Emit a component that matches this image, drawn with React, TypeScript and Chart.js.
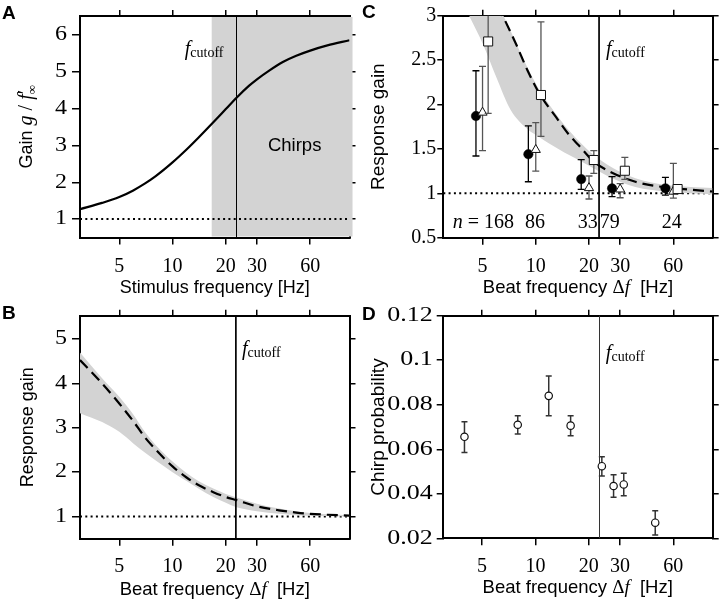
import React, { useEffect, useRef } from 'react';
import { Chart, registerables } from 'chart.js';

Chart.register(...registerables);

const SERIF = '"Liberation Serif", "Times New Roman", serif';
const SANS = '"Liberation Sans", Arial, Helvetica, sans-serif';

// ---- shared frequency axis ----
const freqMin = 3;
const freqMax = 100;
const freqTicks = [5, 10, 20, 30, 60];
const fCutoff = 22.8;
const unityX = [3, 100];
const unityY = [1, 1];

// ---- Panel A: gain vs stimulus frequency ----
const stimFreq = [3, 4, 5, 6, 7, 8, 10, 12, 14, 17, 20, 23, 27, 30, 35, 42, 50, 60, 75, 100];
const stimGain = [1.27, 1.44, 1.6, 1.78, 1.97, 2.16, 2.54, 2.89, 3.21, 3.63, 3.99, 4.3, 4.62, 4.8, 5.03, 5.27, 5.44, 5.58, 5.72, 5.86];
const chirpRange = [16.65, 104];
const chirpsLabelPos = [49, 3.0];
const gainTicks = [1, 2, 3, 4, 5, 6];

// ---- Panel B: model response gain vs beat frequency ----
const beatFreqB = [3, 4, 5, 6, 7, 8, 10, 12, 14, 17, 20, 23, 30, 40, 50, 60, 75, 100];
const respMeanB = [4.53, 4.0, 3.55, 3.15, 2.78, 2.52, 2.13, 1.88, 1.71, 1.55, 1.44, 1.37, 1.23, 1.14, 1.09, 1.06, 1.04, 1.02];
const respUpperB = [4.7, 4.12, 3.7, 3.3, 2.9, 2.62, 2.24, 1.98, 1.8, 1.63, 1.51, 1.43, 1.29, 1.18, 1.12, 1.08, 1.05, 1.03];
const respLowerB = [3.33, 3.13, 2.91, 2.65, 2.44, 2.27, 2.0, 1.8, 1.635, 1.44, 1.31, 1.21, 1.12, 1.06, 1.03, 1.02, 1.01, 1.0];
const respTicksB = [1, 2, 3, 4, 5];

// ---- Panel C: measured response gain ----
const modelFreqC = [3, 5, 6.5, 7.7, 9, 10.5, 13, 15.4, 17.5, 21.3, 27, 36.6, 54, 75, 100];
const modelMeanC = [4.3, 3.45, 3.0, 2.69, 2.38, 2.12, 1.86, 1.66, 1.54, 1.356, 1.232, 1.13, 1.067, 1.04, 1.02];
const bandFreqC = [3, 4.2, 5, 6, 7.2, 9, 10.5, 11.9, 14.5, 17.5, 21.3, 27, 36.6, 54, 75, 100];
const bandUpperC = [4.32, 3.76, 3.47, 3.16, 2.83, 2.41, 2.16, 2.0, 1.77, 1.59, 1.43, 1.29, 1.17, 1.095, 1.07, 1.06];
const bandLowerC = [3.6, 3.0, 2.69, 2.3, 1.94, 1.72, 1.63, 1.56, 1.46, 1.375, 1.28, 1.17, 1.07, 1.02, 1.0, 0.99];
const circFreq = [4.59, 9.08, 18.07, 27.0, 54.1];
const circGain = [1.87, 1.44, 1.16, 1.056, 1.056];
const circLo = [1.42, 1.13, 1.045, 0.962, 0.98];
const circHi = [2.38, 1.76, 1.38, 1.187, 1.18];
const triFreq = [5.0, 10.0, 20.0, 30.0, 60.0];
const triGain = [1.91, 1.49, 1.06, 1.045, 1.02];
const triLo = [1.48, 1.25, 0.936, 0.95, 0.945];
const triHi = [2.43, 1.795, 1.195, 1.11, 1.337];
const sqFreq = [5.38, 10.7, 21.3, 31.9, 63.4];
const sqGain = [2.71, 2.107, 1.375, 1.254, 1.048];
const sqLo = [1.9, 1.64, 1.225, 1.157, 1.03];
const sqHi = [3.52, 2.93, 1.48, 1.405, 1.07];
const nLabels = ['168', '86', '33', '79', '24'];
const nFreq = [6.2, 9.9, 19.7, 26.2, 58.7];
const nLevel = 0.61;
const respTicksC = [0.5, 1, 1.5, 2, 2.5, 3];

// ---- Panel D: chirp probability ----
const chirpFreq = [3.98, 7.95, 11.89, 15.8, 23.7, 27.6, 31.5, 47.4];
const chirpProb = [0.0656, 0.071, 0.084, 0.0706, 0.0524, 0.0435, 0.0442, 0.027];
const chirpLo = [0.0586, 0.0668, 0.0751, 0.0661, 0.048, 0.0384, 0.0391, 0.0215];
const chirpHi = [0.0724, 0.0751, 0.0929, 0.0751, 0.0566, 0.0485, 0.0492, 0.0324];
const probTicks = [0.02, 0.04, 0.06, 0.08, 0.1, 0.12];

const BAND = '#d3d3d3';

const pts = (xs: number[], ys: number[]) => xs.map((x, i) => ({ x, y: ys[i] }));

type Seg = { t: string; f: string; dy?: number; noAdvance?: boolean };

function rich(ctx: CanvasRenderingContext2D, segs: Seg[], x: number, y: number, align: 'left' | 'center' | 'right', rotate = false) {
  ctx.save();
  ctx.translate(x, y);
  if (rotate) ctx.rotate(-Math.PI / 2);
  let total = 0;
  for (const s of segs) {
    ctx.font = s.f;
    if (!s.noAdvance) total += ctx.measureText(s.t).width;
  }
  let cx = align === 'left' ? 0 : align === 'center' ? -total / 2 : -total;
  ctx.textAlign = 'left';
  ctx.textBaseline = 'alphabetic';
  ctx.fillStyle = '#000';
  for (const s of segs) {
    ctx.font = s.f;
    ctx.fillText(s.t, cx, s.dy || 0);
    if (!s.noAdvance) cx += ctx.measureText(s.t).width;
  }
  ctx.restore();
  return total;
}

function fcut(ctx: CanvasRenderingContext2D, x: number, y: number, align: 'left' | 'right') {
  rich(ctx, [
    { t: 'f', f: `italic 20px ${SERIF}` },
    { t: 'cutoff', f: `14px ${SERIF}`, dy: 2 },
  ], x, y, align);
}

function beatTitle(ctx: CanvasRenderingContext2D, x: number, y: number) {
  rich(ctx, [
    { t: 'Beat frequency ', f: `18.5px ${SANS}` },
    { t: 'Δ', f: `19px ${SERIF}` },
    { t: 'f', f: `italic 19px ${SERIF}` },
    { t: '  [Hz]', f: `18.5px ${SANS}` },
  ], x, y, 'center');
}

function letter(ctx: CanvasRenderingContext2D, t: string, y: number) {
  ctx.save();
  ctx.font = `bold 19px ${SANS}`;
  ctx.fillStyle = '#000';
  ctx.textAlign = 'left';
  ctx.textBaseline = 'alphabetic';
  ctx.fillText(t, 2, y);
  ctx.restore();
}

interface Spec {
  w: number;
  h: number;
  area: { l: number; t: number; r: number; b: number };
  yMin: number;
  yMax: number;
  yTicks: number[];
  yTickLen: number;
  yTickPad: number;
  yStretch: number;
  xLabelMid: number;
  datasets: any[];
  region?: number[];
  vline?: { color: string; width: number; afterIndex: number };
  draw: (ctx: CanvasRenderingContext2D, chart: any) => void;
}

function decor(s: Spec) {
  const drawV = (chart: any) => {
    const v = s.vline!;
    const { ctx, chartArea, scales } = chart;
    let x = scales.x.getPixelForValue(fCutoff);
    if (v.width <= 1.2) x = Math.round(x) + 0.5;
    ctx.save();
    ctx.strokeStyle = v.color;
    ctx.lineWidth = v.width;
    ctx.beginPath();
    ctx.moveTo(x, chartArea.top);
    ctx.lineTo(x, chartArea.bottom);
    ctx.stroke();
    ctx.restore();
  };
  return {
    id: 'decor',
    beforeDatasetsDraw(chart: any) {
      const { ctx, chartArea, scales } = chart;
      if (s.region) {
        const x0 = scales.x.getPixelForValue(s.region[0]);
        const x1 = scales.x.getPixelForValue(s.region[1]);
        ctx.save();
        ctx.fillStyle = BAND;
        ctx.fillRect(x0, chartArea.top + 1, x1 - x0, chartArea.bottom - chartArea.top - 2);
        ctx.restore();
      }
      if (s.vline && s.vline.afterIndex < 0) drawV(chart);
    },
    beforeDatasetDraw(chart: any, args: any) {
      const ds = chart.data.datasets[args.index];
      if (!ds.errLo) return;
      const { ctx, chartArea, scales } = chart;
      ctx.save();
      ctx.beginPath();
      ctx.rect(chartArea.left, chartArea.top, chartArea.right - chartArea.left, chartArea.bottom - chartArea.top);
      ctx.clip();
      ctx.strokeStyle = ds.errColor;
      ctx.lineWidth = ds.errWidth;
      const c = ds.errCap;
      ds.data.forEach((p: any, i: number) => {
        const x = scales.x.getPixelForValue(p.x);
        const y1 = scales.y.getPixelForValue(ds.errLo[i]);
        const y2 = scales.y.getPixelForValue(ds.errHi[i]);
        ctx.beginPath();
        ctx.moveTo(x, y1);
        ctx.lineTo(x, y2);
        ctx.moveTo(x - c, y1);
        ctx.lineTo(x + c, y1);
        ctx.moveTo(x - c, y2);
        ctx.lineTo(x + c, y2);
        ctx.stroke();
      });
      ctx.restore();
    },
    afterDatasetDraw(chart: any, args: any) {
      if (s.vline && args.index === s.vline.afterIndex) drawV(chart);
    },
    afterDraw(chart: any) {
      const { ctx, scales, chartArea } = chart;
      // y tick labels
      ctx.save();
      ctx.font = `20px ${SERIF}`;
      ctx.fillStyle = '#000';
      ctx.textAlign = 'right';
      ctx.textBaseline = 'middle';
      const xr = chartArea.left - s.yTickLen - s.yTickPad;
      scales.y.ticks.forEach((t: any) => {
        const y = scales.y.getPixelForValue(t.value);
        ctx.save();
        ctx.translate(xr, y);
        ctx.scale(s.yStretch, 1);
        ctx.fillText(String(t.value), 0, 0);
        ctx.restore();
      });
      ctx.restore();
      s.draw(ctx, chart);
    },
  };
}

function buildConfig(s: Spec) {
  const fix = (size: number, horiz: boolean) => (scale: any) => {
    if (horiz) scale.height = size;
    else scale.width = size;
    scale.paddingLeft = 0;
    scale.paddingRight = 0;
    scale.paddingTop = 0;
    scale.paddingBottom = 0;
  };
  const tickFont = { family: SERIF, size: 20 };
  const gridOf = (len: number) => ({ drawOnChartArea: false, drawTicks: true, tickLength: len, color: '#000', lineWidth: 1.5 });
  const border = { display: true, color: '#000', width: 2 };
  const setX = (sc: any) => {
    sc.ticks = freqTicks.map((v) => ({ value: v }));
  };
  const setY = (sc: any) => {
    sc.ticks = s.yTicks.map((v) => ({ value: v }));
  };
  const xPad = s.xLabelMid - s.area.b - 7 - 12;
  return {
    type: 'line',
    data: { datasets: s.datasets },
    options: {
      animation: false,
      responsive: false,
      events: [],
      layout: { padding: 0 },
      plugins: { legend: { display: false }, tooltip: { enabled: false }, title: { display: false } },
      scales: {
        x: {
          type: 'logarithmic', position: 'bottom', min: freqMin, max: freqMax,
          afterBuildTicks: setX,
          ticks: { callback: (v: any) => String(v), font: tickFont, color: '#000', padding: xPad, maxRotation: 0, minRotation: 0, autoSkip: false },
          grid: gridOf(7), border, afterFit: fix(s.h - s.area.b, true),
        },
        xTop: {
          type: 'logarithmic', position: 'top', min: freqMin, max: freqMax,
          afterBuildTicks: setX,
          ticks: { display: false },
          grid: gridOf(6), border, afterFit: fix(s.area.t, true),
        },
        y: {
          type: 'linear', position: 'left', min: s.yMin, max: s.yMax,
          afterBuildTicks: setY,
          ticks: { display: false },
          grid: gridOf(s.yTickLen), border, afterFit: fix(s.area.l, false),
        },
        yRight: {
          type: 'linear', position: 'right', min: s.yMin, max: s.yMax,
          afterBuildTicks: setY,
          ticks: { display: false },
          grid: gridOf(6), border, afterFit: fix(s.w - s.area.r, false),
        },
      },
    },
    plugins: [decor(s)],
  };
}

const lineDs = (xs: number[], ys: number[], extra: any) => ({
  data: pts(xs, ys), xAxisID: 'x', yAxisID: 'y', pointRadius: 0, fill: false,
  borderColor: '#000', tension: 0.4, cubicInterpolationMode: 'monotone', ...extra,
});
const dotted = () => ({
  data: pts(unityX, unityY), xAxisID: 'x', yAxisID: 'y', pointRadius: 0, fill: false,
  borderColor: '#000', borderWidth: 2, borderDash: [2, 3.3],
});

const midY = (chart: any) => (chart.chartArea.top + chart.chartArea.bottom) / 2;
const midX = (chart: any) => (chart.chartArea.left + chart.chartArea.right) / 2;

const specA: Spec = {
  w: 360, h: 300,
  area: { l: 80, t: 16, r: 349.5, b: 237.5 },
  yMin: 0.5, yMax: 6.52, yTicks: gainTicks, yTickLen: 8, yTickPad: 5, yStretch: 1.2, xLabelMid: 266.7,
  datasets: [
    lineDs(stimFreq, stimGain, { borderWidth: 2.2 }),
    dotted(),
  ],
  region: chirpRange,
  vline: { color: '#000', width: 1, afterIndex: 0 },
  draw: (ctx, chart) => {
    letter(ctx, 'A', 18.5);
    rich(ctx, [{ t: 'Stimulus frequency [Hz]', f: `18px ${SANS}` }], midX(chart), 292.7, 'center');
    rich(ctx, [
      { t: 'Gain ', f: `18px ${SANS}` },
      { t: 'g', f: `italic 20px ${SERIF}` },
      { t: ' / ', f: `20px ${SERIF}` },
      { t: 'f', f: `italic 20px ${SERIF}` },
      { t: '′', f: `20px ${SERIF}`, noAdvance: true },
      { t: '∞', f: `13px ${SERIF}`, dy: 4 },
    ], 31.7, midY(chart), 'center', true);
    const vx = chart.scales.x.getPixelForValue(fCutoff);
    fcut(ctx, vx - 12.4, 55.3, 'right');
    ctx.save();
    ctx.font = `18.5px ${SANS}`;
    ctx.fillStyle = '#000';
    ctx.textAlign = 'center';
    ctx.textBaseline = 'middle';
    ctx.fillText('Chirps', chart.scales.x.getPixelForValue(chirpsLabelPos[0]), chart.scales.y.getPixelForValue(chirpsLabelPos[1]));
    ctx.restore();
  },
};

const specB: Spec = {
  w: 360, h: 299,
  area: { l: 80, t: 15.7, r: 349.5, b: 238.7 },
  yMin: 0.5, yMax: 5.53, yTicks: respTicksB, yTickLen: 8, yTickPad: 5, yStretch: 1.2, xLabelMid: 267,
  datasets: [
    lineDs(beatFreqB, respMeanB, { borderWidth: 2.2, borderDash: [11, 6] }),
    lineDs(beatFreqB, respUpperB, { borderWidth: 1, borderColor: 'rgba(0,0,0,0)' }),
    lineDs(beatFreqB, respLowerB, { borderWidth: 1, borderColor: 'rgba(0,0,0,0)', fill: '-1', backgroundColor: BAND }),
    dotted(),
  ],
  vline: { color: '#000', width: 1.7, afterIndex: 0 },
  draw: (ctx, chart) => {
    letter(ctx, 'B', 18.5);
    beatTitle(ctx, midX(chart), 295);
    rich(ctx, [{ t: 'Response gain', f: `18px ${SANS}` }], 33.3, midY(chart), 'center', true);
    const vx = chart.scales.x.getPixelForValue(fCutoff);
    fcut(ctx, vx + 6, 55.3, 'left');
  },
};

const specC: Spec = {
  w: 360, h: 300,
  area: { l: 83.3, t: 15.7, r: 352.7, b: 237.7 },
  yMin: 0.5, yMax: 3, yTicks: respTicksC, yTickLen: 6, yTickPad: 1, yStretch: 1.0, xLabelMid: 266.7,
  datasets: [
    { data: pts(sqFreq, sqGain), xAxisID: 'x', yAxisID: 'y', showLine: false, pointStyle: 'rect', pointRadius: 6.4,
      pointBackgroundColor: '#fff', pointBorderColor: '#111', pointBorderWidth: 1,
      errLo: sqLo, errHi: sqHi, errColor: '#555', errWidth: 1.3, errCap: 3.5 },
    { data: pts(triFreq, triGain), xAxisID: 'x', yAxisID: 'y', showLine: false, pointStyle: 'triangle', pointRadius: 5.3,
      pointBackgroundColor: '#fff', pointBorderColor: '#111', pointBorderWidth: 1,
      errLo: triLo, errHi: triHi, errColor: '#555', errWidth: 1.3, errCap: 3.5 },
    { data: pts(circFreq, circGain), xAxisID: 'x', yAxisID: 'y', showLine: false, pointStyle: 'circle', pointRadius: 4.7,
      pointBackgroundColor: '#000', pointBorderColor: '#000', pointBorderWidth: 0.5,
      errLo: circLo, errHi: circHi, errColor: '#000', errWidth: 1.3, errCap: 3.5 },
    lineDs(modelFreqC, modelMeanC, { borderWidth: 2.2, borderDash: [11, 6] }),
    lineDs(bandFreqC, bandUpperC, { borderWidth: 1, borderColor: 'rgba(0,0,0,0)' }),
    lineDs(bandFreqC, bandLowerC, { borderWidth: 1, borderColor: 'rgba(0,0,0,0)', fill: '-1', backgroundColor: BAND }),
    dotted(),
  ],
  vline: { color: '#000', width: 1.7, afterIndex: 3 },
  draw: (ctx, chart) => {
    letter(ctx, 'C', 18.3);
    beatTitle(ctx, midX(chart), 293);
    rich(ctx, [{ t: 'Response gain', f: `19px ${SANS}` }], 24, midY(chart), 'center', true);
    const vx = chart.scales.x.getPixelForValue(fCutoff);
    fcut(ctx, vx + 7, 55.3, 'left');
    const y = chart.scales.y.getPixelForValue(nLevel);
    ctx.save();
    ctx.font = `20px ${SERIF}`;
    ctx.fillStyle = '#000';
    ctx.textBaseline = 'alphabetic';
    ctx.textAlign = 'center';
    nLabels.forEach((t, i) => {
      const x = chart.scales.x.getPixelForValue(nFreq[i]);
      ctx.fillText(t, x, y);
      if (i === 0) {
        const w = ctx.measureText(t).width;
        rich(ctx, [{ t: 'n', f: `italic 20px ${SERIF}` }, { t: ' = ', f: `20px ${SERIF}` }], x - w / 2, y, 'right');
        ctx.font = `20px ${SERIF}`;
        ctx.textAlign = 'center';
      }
    });
    ctx.restore();
  },
};

const specD: Spec = {
  w: 360, h: 299,
  area: { l: 82.7, t: 15.7, r: 352.7, b: 238.3 },
  yMin: 0.02, yMax: 0.12, yTicks: probTicks, yTickLen: 6, yTickPad: 4, yStretch: 1.3, xLabelMid: 266.7,
  datasets: [
    { data: pts(chirpFreq, chirpProb), xAxisID: 'x', yAxisID: 'y', showLine: false, pointStyle: 'circle', pointRadius: 3.7,
      pointBackgroundColor: '#fff', pointBorderColor: '#111', pointBorderWidth: 1.2,
      errLo: chirpLo, errHi: chirpHi, errColor: '#333', errWidth: 1.5, errCap: 3 },
  ],
  vline: { color: '#333', width: 1, afterIndex: -1 },
  draw: (ctx, chart) => {
    letter(ctx, 'D', 20);
    beatTitle(ctx, midX(chart), 293);
    rich(ctx, [{ t: 'Chirp probability', f: `19px ${SANS}` }], 24, midY(chart), 'center', true);
    const vx = chart.scales.x.getPixelForValue(fCutoff);
    fcut(ctx, vx + 7, 58.5, 'left');
  },
};

function Panel({ spec, left, top }: { spec: Spec; left: number; top: number }) {
  const ref = useRef<HTMLCanvasElement>(null);
  useEffect(() => {
    const c = ref.current;
    if (!c) return;
    const chart = new Chart(c, buildConfig(spec) as any);
    return () => chart.destroy();
  }, [spec]);
  return (
    <canvas
      ref={ref}
      width={spec.w}
      height={spec.h}
      style={{ position: 'absolute', left, top, width: spec.w, height: spec.h, display: 'block' }}
    />
  );
}

export default function App() {
  return (
    <div style={{ position: 'absolute', left: 0, top: 0, width: 720, height: 599, background: '#fff', overflow: 'hidden' }}>
      <Panel spec={specA} left={0} top={0} />
      <Panel spec={specC} left={360} top={0} />
      <Panel spec={specB} left={0} top={300} />
      <Panel spec={specD} left={360} top={300} />
    </div>
  );
}
